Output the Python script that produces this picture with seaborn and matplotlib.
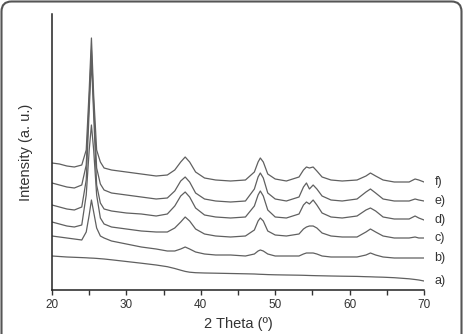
import numpy as np
import pandas as pd
import matplotlib
matplotlib.use("Agg")
import matplotlib.pyplot as plt
from matplotlib.patches import FancyBboxPatch
from matplotlib.ticker import MultipleLocator
import seaborn as sns

# 2 theta positions (degrees) shared by all patterns
two_theta = [20, 21, 22, 23, 24, 24.6, 25.0, 25.3, 25.6, 26.0, 26.5, 27, 28, 30, 32, 34,
             35.5, 36.5, 37.3, 37.9, 38.5, 39.3, 40.5, 42, 44, 46, 47.2, 47.7, 48.0, 48.4,
             49, 50, 51.5, 53.2, 53.8, 54.2, 54.6, 55.1, 55.6, 56.3, 57.5, 59, 61, 62.2,
             62.8, 63.5, 64.5, 66, 68, 68.8, 69.3, 70]

# intensities (a.u., stacked as in the figure)
int_a = [34, 33.5, 33, 32.7, 32.4, 32.2, 32, 31.9, 31.8, 31.6, 31.3, 31, 30.2, 28.5, 26.8, 25,
         23.3, 21.5, 19.8, 18.6, 17.8, 17.3, 17, 16.8, 16.5, 16.2, 16, 15.8, 15.7, 15.6,
         15.4, 15.2, 15, 14.8, 14.7, 14.6, 14.5, 14.4, 14.3, 14.2, 14, 13.8, 13.6, 13.3,
         13.2, 13, 12.8, 12.3, 11.2, 10.5, 10, 9]
int_b = [54, 53, 52, 51, 50, 58, 75, 90, 78, 62, 54, 52, 49, 46, 43, 41, 39, 39, 41, 43,
         41, 38, 36, 35, 35, 34, 36, 39, 40, 39, 36, 34, 34, 34, 36, 37, 37, 37, 36, 34,
         33, 33, 33, 35, 37, 35, 33, 32, 32, 32, 32, 32]
int_c = [68, 66, 64, 63, 65, 95, 140, 165, 140, 95, 72, 66, 63, 61, 59, 58, 58, 62, 68, 73,
         69, 61, 56, 54, 53, 54, 60, 69, 72, 69, 59, 55, 54, 56, 61, 63, 64, 64, 62, 57,
         54, 53, 53, 58, 61, 58, 54, 52, 52, 53, 52, 52]
int_d = [85, 83, 81, 80, 83, 110, 180, 230, 175, 105, 87, 81, 79, 77, 76, 74, 76, 84, 94, 98,
         93, 82, 75, 73, 72, 73, 84, 95, 99, 94, 80, 73, 72, 76, 85, 88, 86, 90, 85, 77,
         73, 72, 74, 80, 82, 79, 73, 71, 71, 74, 72, 70]
int_e = [107, 105, 103, 102, 105, 125, 190, 240, 185, 122, 106, 100, 97, 95, 93, 91, 92, 99, 109, 113,
         108, 97, 91, 89, 88, 89, 101, 113, 117, 112, 97, 91, 89, 93, 103, 107, 101, 105, 101, 94,
         90, 89, 91, 98, 101, 97, 91, 89, 89, 91, 90, 89]
int_f = [127, 126, 124, 123, 125, 140, 200, 252, 195, 140, 128, 122, 120, 118, 116, 114, 115, 120, 128, 133,
         128, 118, 112, 110, 109, 110, 118, 128, 132, 128, 116, 111, 109, 113, 120, 123, 122, 123, 119, 113,
         110, 109, 110, 114, 117, 114, 110, 108, 108, 111, 110, 108]

labels = ["a)", "b)", "c)", "d)", "e)", "f)"]
series = [int_a, int_b, int_c, int_d, int_e, int_f]

df = pd.concat([pd.DataFrame({"two_theta": two_theta, "intensity": s, "sample": lab})
                for lab, s in zip(labels, series)], ignore_index=True)

sns.set_theme(style="ticks")
plt.rcParams["font.family"] = ["Liberation Sans", "DejaVu Sans"]

fig = plt.figure(figsize=(4.63, 3.34), dpi=100)
ax = fig.add_axes([52 / 463, 44 / 334, 372 / 463, 276 / 334])

sns.lineplot(data=df, x="two_theta", y="intensity", hue="sample", estimator=None,
             palette=["#606060"] * 6, linewidth=0.9, legend=False, ax=ax, sort=False)

ax.set_xlim(20, 70)
ax.set_ylim(0, 276)
ax.set_yticks([])
ax.xaxis.set_major_locator(MultipleLocator(10))
ax.xaxis.set_minor_locator(MultipleLocator(5))
ax.tick_params(axis="x", which="both", direction="out", length=3.5, width=1,
               colors="#333333", labelsize=8.5, pad=3)
for sp in ["top", "right"]:
    ax.spines[sp].set_visible(False)
for sp in ["left", "bottom"]:
    ax.spines[sp].set_color("#222222")
    ax.spines[sp].set_linewidth(1.1)

ax.set_xlabel("2 Theta (º)", fontsize=10.5, color="#333333", labelpad=4)
ax.set_ylabel("Intensity (a. u.)", fontsize=10.5, color="#333333", labelpad=14)

# sample labels at the right end of each pattern
for lab, s in zip(labels, series):
    ax.text(71.4, s[-1], lab, fontsize=9, color="#333333", va="center", ha="left", clip_on=False)

# rounded frame around the figure
frame = FancyBboxPatch((1.5, -20), 460, 352.5, boxstyle="round,pad=0,rounding_size=10",
                       transform=None, fill=False, edgecolor="#555555", linewidth=1.5)
fig.patches.append(frame)

fig.savefig("out.png", dpi=100)
